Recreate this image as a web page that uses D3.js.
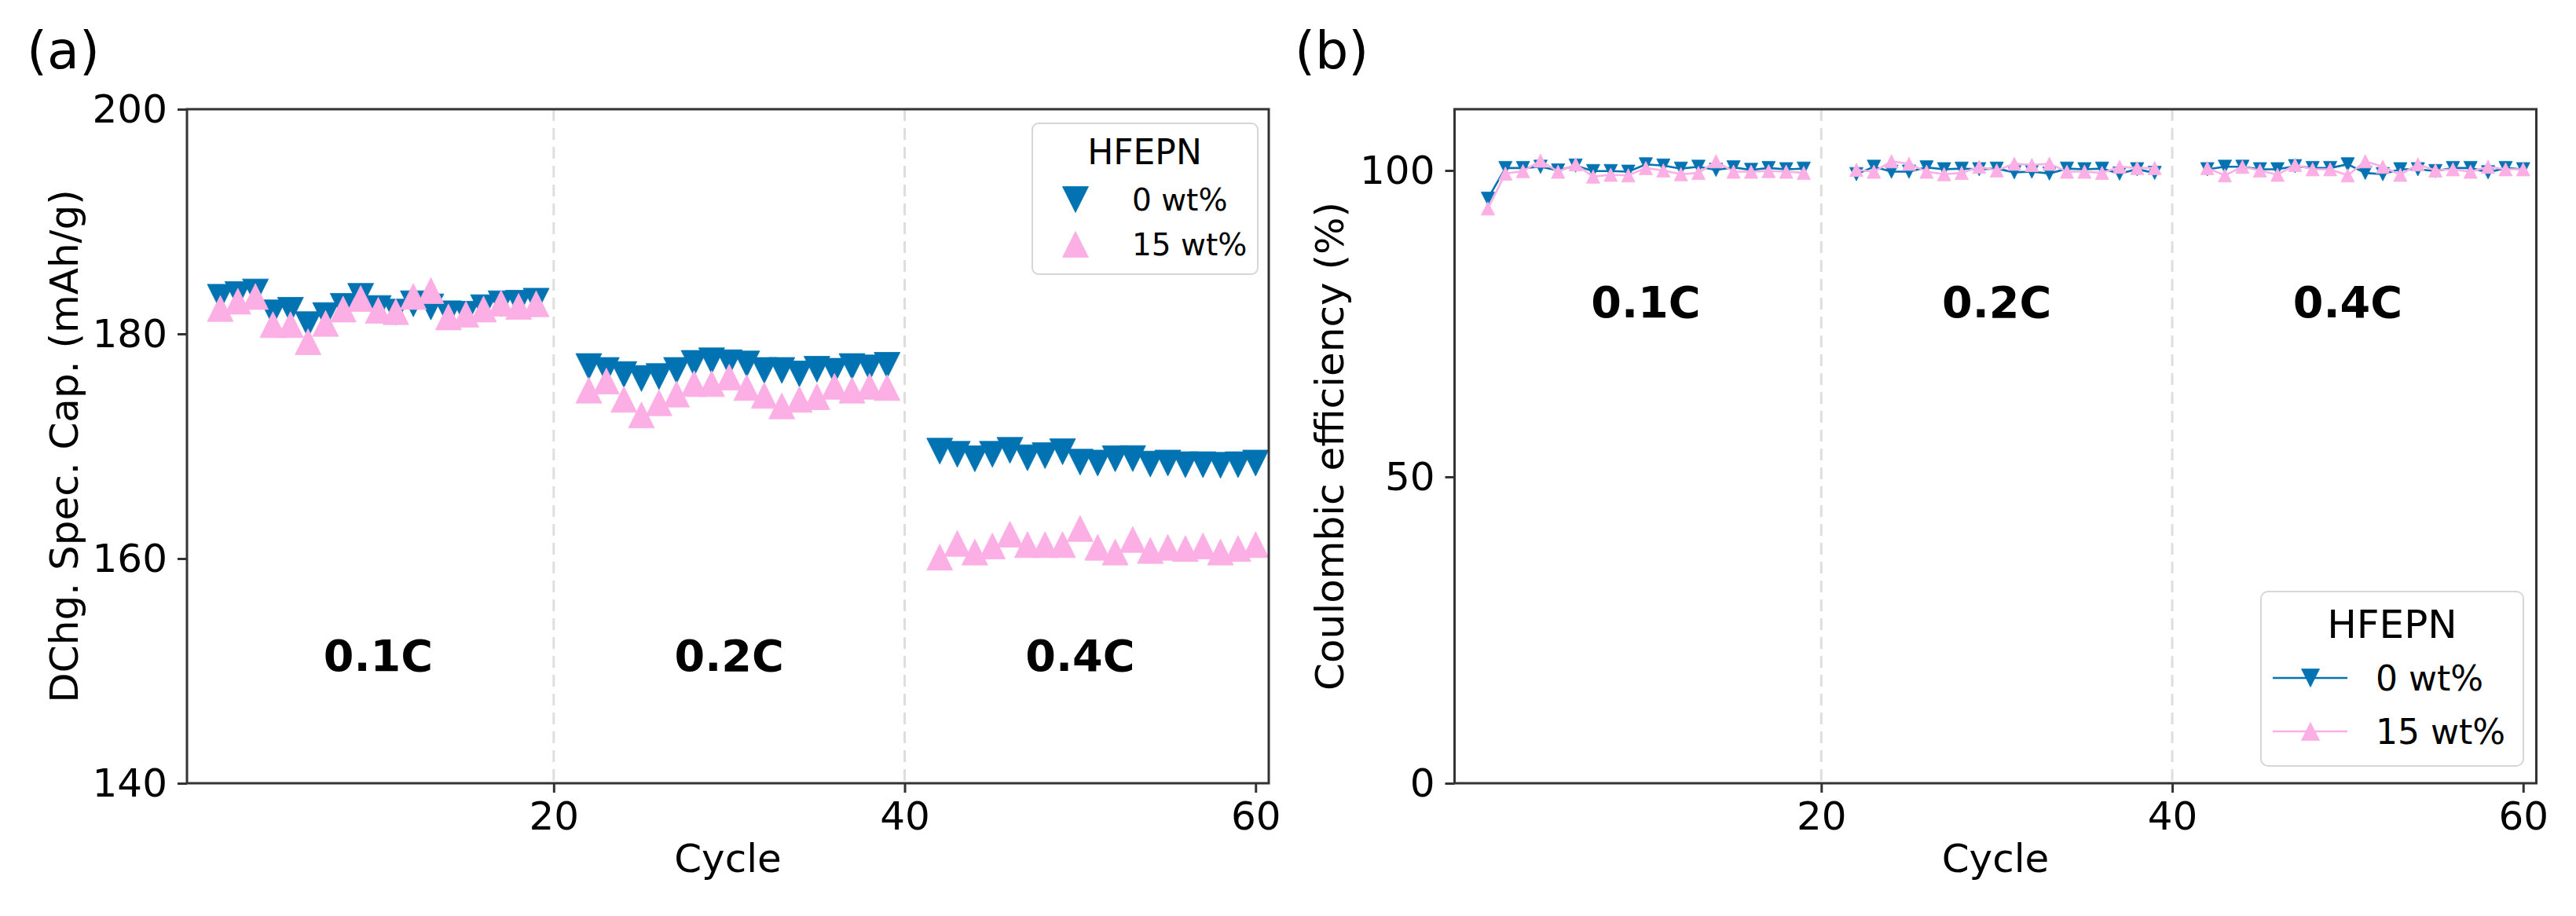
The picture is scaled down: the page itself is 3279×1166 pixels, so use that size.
<!DOCTYPE html>
<html>
<head>
<meta charset="utf-8">
<script src="https://cdn.jsdelivr.net/npm/d3@7"></script>
<style>
  html, body { margin: 0; padding: 0; background: #fff; }
  svg { display: block; font-family: "DejaVu Sans", sans-serif; }
</style>
</head>
<body>
<svg id="chart" width="3279" height="1166"></svg>
<script>
// ---------------- DATA ----------------
const cycles = [1,2,3,4,5,6,7,8,9,10,11,12,13,14,15,16,17,18,19,
                22,23,24,25,26,27,28,29,30,31,32,33,34,35,36,37,38,39,
                42,43,44,45,46,47,48,49,50,51,52,53,54,55,56,57,58,59,60];

const seriesNames = ["0 wt%", "15 wt%"];
const legendTitle = "HFEPN";

// Discharge specific capacity (mAh/g)
const cap0 = [183.26,183.50,183.73,181.87,182.10,180.82,181.63,182.45,183.34,182.26,181.94,182.68,182.40,181.79,181.75,182.33,182.68,182.73,182.91,
              177.09,176.74,176.38,176.03,176.20,176.74,177.37,177.60,177.43,177.32,176.74,176.74,176.43,176.85,176.67,177.09,176.97,177.20,
              169.56,169.28,168.88,169.28,169.63,168.97,169.16,169.51,168.58,168.50,168.88,168.90,168.41,168.50,168.35,168.35,168.30,168.35,168.50];
const cap15 = [182.26,182.91,183.33,180.82,180.82,179.30,180.93,182.21,183.15,182.10,181.98,183.33,183.85,181.51,181.75,182.21,182.73,182.45,182.68,
               174.99,175.80,174.17,172.78,173.87,174.64,175.57,175.57,176.15,175.22,174.52,173.59,174.17,174.41,175.33,174.99,175.33,175.22,
               160.12,161.35,160.58,161.12,162.17,161.24,161.24,161.24,162.68,161.00,160.58,161.70,160.72,161.00,160.89,161.12,160.58,160.89,161.24];

// Coulombic efficiency (%)
const ce0 = [95.4,100.4,100.4,100.6,100.0,100.8,99.9,99.9,99.8,101.0,100.8,100.3,100.6,100.1,100.5,100.1,100.4,100.2,100.3,
             99.4,100.6,99.8,99.8,100.5,100.2,100.3,100.2,100.3,99.7,99.8,99.5,100.3,100.2,100.3,99.5,100.2,99.6,
             100.2,100.6,100.6,100.2,100.2,100.7,100.4,100.4,101.0,99.6,99.4,100.2,100.2,99.9,100.4,100.4,99.7,100.4,100.2];
const ce15 = [93.8,99.5,99.9,101.6,99.8,101.0,99.0,99.3,99.2,100.4,100.0,99.4,99.6,101.5,99.8,99.8,99.9,99.8,99.6,
              100.1,99.8,101.5,101.1,99.8,99.4,99.6,100.6,100.0,101.1,100.9,101.1,99.8,99.8,99.6,100.6,100.4,100.4,
              100.4,99.2,100.6,100.0,99.3,100.9,100.2,100.2,99.2,101.5,100.6,99.3,101.0,100.0,100.2,99.8,100.6,100.2,100.2];

const rateLabels = ["0.1C", "0.2C", "0.4C"];
const rateLabelX = [10, 30, 50];
const rateLabelYa = 150;
const rateLabelYb = 76;
const dividerX = [20, 40];

const xTicks = [20, 40, 60];
const yTicksA = [140, 160, 180, 200];
const yTicksB = [0, 50, 100];
const xDomain = [-0.9, 60.75];
const yDomainA = [140, 200];
const yDomainB = [0, 110];

// ---------------- STYLE ----------------
const BLUE = "#0173B2";
const PINK = "#FBAFE4";
const SPINE = "#333333";
const FONT = "DejaVu Sans";

const svg = d3.select("#chart");
svg.append("rect").attr("width", 3279).attr("height", 1166).attr("fill", "#fff");

function tri(kind, s) {
  const h = s / 2;
  if (kind === "down") return `M${-h},${-h}L${h},${-h}L0,${h}Z`;
  return `M0,${-h}L${h},${h}L${-h},${h}Z`;
}

function makePanel(opt) {
  const {left, right, top, bottom, yDomain, yTicks} = opt;
  const x = d3.scaleLinear().domain(xDomain).range([left, right]);
  const y = d3.scaleLinear().domain(yDomain).range([bottom, top]);
  const g = svg.append("g");

  // dashed dividers
  g.selectAll("line.div").data(dividerX).join("line")
    .attr("x1", d => x(d)).attr("x2", d => x(d))
    .attr("y1", top).attr("y2", bottom)
    .attr("stroke", "#dedede").attr("stroke-width", 3)
    .attr("stroke-dasharray", "15,9");

  // axes
  const xa = g.append("g").attr("transform", `translate(0,${bottom})`)
    .call(d3.axisBottom(x).tickValues(xTicks).tickFormat(d3.format("d")).tickSize(12).tickPadding(11));
  const ya = g.append("g").attr("transform", `translate(${left},0)`)
    .call(d3.axisLeft(y).tickValues(yTicks).tickFormat(d3.format("d")).tickSize(12).tickPadding(13));
  [xa, ya].forEach(a => {
    a.select(".domain").remove();
    a.selectAll(".tick line").attr("stroke", SPINE).attr("stroke-width", 3);
    a.selectAll(".tick text").attr("font-family", FONT).attr("font-size", 50).attr("fill", "#000");
  });

  return {x, y, g};
}

function frame(p, opt) {
  p.g.append("rect")
    .attr("x", opt.left).attr("y", opt.top)
    .attr("width", opt.right - opt.left).attr("height", opt.bottom - opt.top)
    .attr("fill", "none").attr("stroke", SPINE).attr("stroke-width", 3);
}

function points(p, vals, kind, color, size) {
  p.g.append("g").selectAll("path").data(cycles.map((c, i) => ({c, v: vals[i]}))).join("path")
    .attr("d", tri(kind, size))
    .attr("transform", d => `translate(${p.x(d.c)},${p.y(d.v)})`)
    .attr("fill", color).attr("stroke", color).attr("stroke-width", 0.8);
}

function lines(p, vals, color) {
  // split into consecutive-cycle segments
  const segs = [];
  let cur = [];
  cycles.forEach((c, i) => {
    if (cur.length && c - cur[cur.length - 1].c > 1) { segs.push(cur); cur = []; }
    cur.push({c, v: vals[i]});
  });
  if (cur.length) segs.push(cur);
  const line = d3.line().x(d => p.x(d.c)).y(d => p.y(d.v));
  p.g.append("g").selectAll("path").data(segs).join("path")
    .attr("d", line).attr("fill", "none").attr("stroke", color).attr("stroke-width", 2.6);
}

// ---------------- PANEL A ----------------
const optA = {left: 238, right: 1615, top: 139, bottom: 997, yDomain: yDomainA, yTicks: yTicksA};
const pa = makePanel(optA);
points(pa, cap0, "down", BLUE, 33);
points(pa, cap15, "up", PINK, 33);
frame(pa, optA);

pa.g.selectAll("text.rate").data(rateLabels).join("text")
  .attr("x", (d, i) => pa.x(rateLabelX[i])).attr("y", pa.y(rateLabelYa))
  .attr("text-anchor", "middle").attr("font-family", FONT).attr("font-weight", "bold")
  .attr("font-size", 55.6).text(d => d);

svg.append("text").attr("transform", "translate(98.5,568) rotate(-90)")
  .attr("text-anchor", "middle").attr("font-family", FONT).attr("font-size", 50)
  .text("DChg. Spec. Cap. (mAh/g)");
svg.append("text").attr("x", (optA.left + optA.right) / 2).attr("y", 1110)
  .attr("text-anchor", "middle").attr("font-family", FONT).attr("font-size", 50).text("Cycle");
svg.append("text").attr("x", 34).attr("y", 87).attr("font-family", FONT).attr("font-size", 66.7).text("(a)");

// legend A
const lgA = svg.append("g");
lgA.append("rect").attr("x", 1314).attr("y", 157).attr("width", 287).attr("height", 192).attr("rx", 8)
  .attr("fill", "#fff").attr("fill-opacity", 0.8).attr("stroke", "#d6d6d6").attr("stroke-width", 2);
lgA.append("text").attr("x", 1457).attr("y", 209).attr("text-anchor", "middle")
  .attr("font-family", FONT).attr("font-size", 44).text(legendTitle);
[[254, "down", BLUE], [311, "up", PINK]].forEach((e, i) => {
  lgA.append("path").attr("d", tri(e[1], 33)).attr("transform", `translate(1369,${e[0]})`)
    .attr("fill", e[2]).attr("stroke", e[2]).attr("stroke-width", 0.8);
  lgA.append("text").attr("x", 1441).attr("y", e[0] + 14).attr("font-family", FONT)
    .attr("font-size", 39).text(seriesNames[i]);
});

// ---------------- PANEL B ----------------
const optB = {left: 1851.5, right: 3228.5, top: 139, bottom: 997, yDomain: yDomainB, yTicks: yTicksB};
const pb = makePanel(optB);
lines(pb, ce0, BLUE);
points(pb, ce0, "down", BLUE, 17);
lines(pb, ce15, PINK);
points(pb, ce15, "up", PINK, 17);
frame(pb, optB);

pb.g.selectAll("text.rate").data(rateLabels).join("text")
  .attr("x", (d, i) => pb.x(rateLabelX[i])).attr("y", pb.y(rateLabelYb))
  .attr("text-anchor", "middle").attr("font-family", FONT).attr("font-weight", "bold")
  .attr("font-size", 55.6).text(d => d);

svg.append("text").attr("transform", "translate(1710,568) rotate(-90)")
  .attr("text-anchor", "middle").attr("font-family", FONT).attr("font-size", 50)
  .text("Coulombic efficiency (%)");
svg.append("text").attr("x", (optB.left + optB.right) / 2).attr("y", 1110)
  .attr("text-anchor", "middle").attr("font-family", FONT).attr("font-size", 50).text("Cycle");
svg.append("text").attr("x", 1648).attr("y", 87).attr("font-family", FONT).attr("font-size", 66.7).text("(b)");

// legend B
const lgB = svg.append("g");
lgB.append("rect").attr("x", 2878).attr("y", 753).attr("width", 334).attr("height", 222).attr("rx", 9)
  .attr("fill", "#fff").attr("fill-opacity", 0.8).attr("stroke", "#d6d6d6").attr("stroke-width", 2);
lgB.append("text").attr("x", 3045).attr("y", 812).attr("text-anchor", "middle")
  .attr("font-family", FONT).attr("font-size", 50).text(legendTitle);
[[863, "down", BLUE], [931, "up", PINK]].forEach((e, i) => {
  lgB.append("line").attr("x1", 2893).attr("x2", 2988).attr("y1", e[0]).attr("y2", e[0])
    .attr("stroke", e[2]).attr("stroke-width", 2.6);
  lgB.append("path").attr("d", tri(e[1], 23)).attr("transform", `translate(2941,${e[0]})`)
    .attr("fill", e[2]).attr("stroke", e[2]).attr("stroke-width", 0.8);
  lgB.append("text").attr("x", 3024).attr("y", e[0] + 16).attr("font-family", FONT)
    .attr("font-size", 44).text(seriesNames[i]);
});
</script>
</body>
</html>
